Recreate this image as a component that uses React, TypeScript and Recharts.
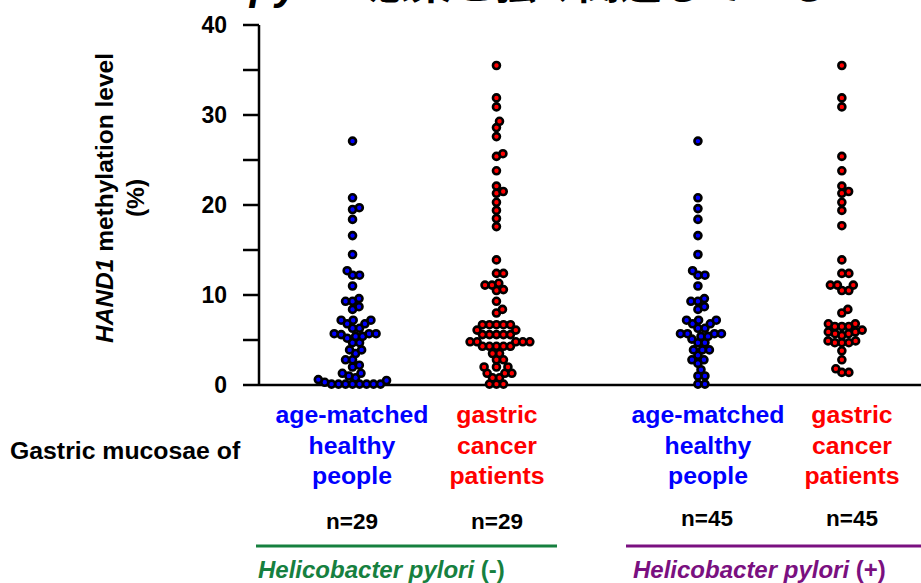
import React from 'react';
import { ScatterChart, Scatter, XAxis, YAxis, ReferenceLine } from 'recharts';

// methylation level (%) per sample
const healthyNeg = [
    27.1, 20.8, 19.7, 19.5, 18.4, 16.6, 14.5, 12.7, 12.2, 12.2, 11.0, 9.6, 9.3, 9.3, 8.7, 8.4,
    7.2, 7.2, 7.2, 6.8, 6.8, 6.3, 6.3, 5.7, 5.7, 5.7, 5.6, 5.4, 5.4, 5.2, 4.7, 4.7, 3.9, 3.9,
    3.5, 2.8, 2.8, 2.2, 2.0, 1.3, 1.3, 1.0, 0.8, 0.6, 0.5, 0.3,
    0.1, 0.1, 0.1, 0.1, 0.1, 0.1, 0.1, 0.1
];
const cancerNeg = [
    35.5, 31.9, 30.9, 29.3, 28.6, 27.6, 25.7, 25.4, 23.8, 22.1, 21.5, 21.3, 20.3, 19.4, 18.5, 17.6,
    13.9, 12.4, 12.4, 11.3, 11.1, 11.1, 10.6, 10.5, 9.3, 8.4, 8.0,
    6.7, 6.7, 6.7, 6.7, 6.7, 6.1, 6.1, 5.6, 5.6, 5.6, 5.6, 5.6, 4.8, 4.8, 4.8, 4.8, 4.8,
    4.3, 4.3, 4.3, 4.3, 4.3, 3.5, 3.5, 2.8, 2.8, 2.0, 2.0, 2.0, 1.3, 1.3, 1.3, 0.8, 0.8,
    0.1, 0.1, 0.1
];
const healthyPos = [
    27.1, 20.8, 19.6, 18.4, 16.6, 14.5, 12.7, 12.2, 12.2, 11.0, 9.6, 9.3, 9.3, 8.7, 8.4,
    7.2, 7.2, 7.2, 6.8, 6.8, 6.3, 6.3, 5.7, 5.7, 5.7, 5.7, 5.4, 5.4, 5.1, 4.7, 4.7,
    3.9, 3.9, 3.9, 3.3, 2.8, 2.8, 2.4, 1.7, 1.0, 1.0, 0.1, 0.1
];
const cancerPos = [
    35.5, 31.9, 30.9, 25.4, 23.8, 22.1, 21.5, 21.3, 20.3, 19.4, 17.7, 13.9, 12.4, 12.4,
    11.1, 11.1, 11.1, 10.5, 10.5, 8.4, 8.0, 6.8, 6.8, 6.5, 6.5, 6.5, 6.1, 5.9, 5.9, 5.7, 5.7,
    5.5, 4.9, 4.9, 4.7, 4.7, 4.7, 3.8, 2.8, 1.8, 1.4, 1.4
];

const groupValues = [healthyNeg, cancerNeg, healthyPos, cancerPos];
const groupPositions = [1, 2, 3.4, 4.4];
const groupColors = ['#0000ff', '#ff0000', '#0000ff', '#ff0000'];
const groupLabels = [
    ['age-matched', 'healthy', 'people'],
    ['gastric', 'cancer', 'patients'],
    ['age-matched', 'healthy', 'people'],
    ['gastric', 'cancer', 'patients']
];
const sampleSizes = ['n=29', 'n=29', 'n=45', 'n=45'];
const yTicks = [0, 5, 10, 15, 20, 25, 30, 35, 40];

const WIDTH = 921;
const HEIGHT = 583;
const X_DOMAIN = [0.35, 4.95];
const PX_PER_X = 662 / (X_DOMAIN[1] - X_DOMAIN[0]);
const PX_PER_Y = 360 / 40;
const DOT_GAP = 7;

// simple beeswarm: push each point sideways until it clears the ones already placed
const swarm = (values: number[], center: number) => {
    const placed: { x: number; y: number }[] = [];
    return [...values].sort((a, b) => a - b).map(v => {
        const py = v * PX_PER_Y;
        const candidates = [0];
        placed.forEach(p => {
            const dy = py - p.y;
            if (Math.abs(dy) < DOT_GAP) {
                const dx = Math.sqrt(DOT_GAP * DOT_GAP - dy * dy);
                candidates.push(p.x + dx, p.x - dx);
            }
        });
        candidates.sort((a, b) => Math.abs(a) - Math.abs(b));
        const x = candidates.find(c =>
            placed.every(p => (p.x - c) ** 2 + (p.y - py) ** 2 >= DOT_GAP * DOT_GAP - 0.01)) ?? 0;
        placed.push({ x, y: py });
        return { x: center + x / PX_PER_X, y: v };
    });
};

const font = '"Liberation Sans", Arial, sans-serif';

const Dot = (color: string) => (props: any) => (
    <circle cx={props.cx} cy={props.cy} r={3.5} fill={color} stroke="#000" strokeWidth={2.6} />
);

const App = () => {
    const groups = groupValues.map((vals, i) => swarm(vals, groupPositions[i]));

    return (
        <div style={{ position: 'absolute', left: 0, top: 0, width: WIDTH, height: HEIGHT, background: '#fff' }}>
            <ScatterChart width={WIDTH} height={HEIGHT} margin={{ top: 25, right: 0, bottom: 198, left: 199 }}>
                <XAxis type="number" dataKey="x" domain={X_DOMAIN} hide />
                <YAxis
                    type="number"
                    dataKey="y"
                    width={60}
                    domain={[0, 40]}
                    ticks={yTicks}
                    interval={0}
                    tickSize={16}
                    tickMargin={16}
                    tickFormatter={(v: number) => (v % 10 === 0 ? String(v) : '')}
                    axisLine={{ stroke: '#000', strokeWidth: 2.5 }}
                    tickLine={{ stroke: '#000', strokeWidth: 2.5 }}
                    tick={{ fill: '#000', fontSize: 23, fontWeight: 'bold', fontFamily: font }}
                />
                <ReferenceLine y={0} stroke="#000" strokeWidth={2.5} />
                {groups.map((data, i) => (
                    <Scatter
                        key={i}
                        data={data}
                        shape={Dot(groupColors[i])}
                        isAnimationActive={false}
                    />
                ))}
            </ScatterChart>

            <svg
                width={WIDTH}
                height={HEIGHT}
                style={{ position: 'absolute', left: 0, top: 0, pointerEvents: 'none' }}
                fontFamily={font}
                fontWeight="bold"
            >
                {/* title, cut off by the top edge */}
                <text x={196} y={-1} fontSize={42} fontStyle="italic" fill="#000">H. pylori</text>
                <text x={368} y={-1} fontSize={42} fill="#000" fontFamily='"Noto Sans CJK JP", sans-serif'>
                    感染と強く関連している
                </text>

                <text transform="translate(113,198) rotate(-90)" textAnchor="middle" fontSize={24.5} fill="#000">
                    <tspan fontStyle="italic">HAND1</tspan> methylation level
                </text>
                <text transform="translate(144,198) rotate(-90)" textAnchor="middle" fontSize={24.5} fill="#000">
                    (%)
                </text>

                <text x={10} y={459} fontSize={24.8} fill="#000">Gastric mucosae of</text>

                {groupLabels.map((lines, i) => (
                    <text key={i} textAnchor="middle" fontSize={24.8} fill={groupColors[i]}>
                        {lines.map((line, j) => (
                            <tspan key={j} x={[352, 497, 708, 852][i]} y={423 + j * 30.5}>{line}</tspan>
                        ))}
                    </text>
                ))}

                {sampleSizes.map((n, i) => (
                    <text key={n + i} x={[352, 497, 707, 852][i]} y={i < 2 ? 529 : 526}
                        textAnchor="middle" fontSize={22.5} fill="#000">{n}</text>
                ))}

                <line x1={256} x2={557} y1={546} y2={546} stroke="#16803f" strokeWidth={3} />
                <line x1={626} x2={921} y1={546} y2={546} stroke="#7a1080" strokeWidth={3} />
                <text x={258} y={578} fontSize={24} fill="#16803f">
                    <tspan fontStyle="italic">Helicobacter pylori</tspan> (-)
                </text>
                <text x={633} y={578} fontSize={24} fill="#7a1080">
                    <tspan fontStyle="italic">Helicobacter pylori</tspan> (+)
                </text>
            </svg>
        </div>
    );
};

export default App;
